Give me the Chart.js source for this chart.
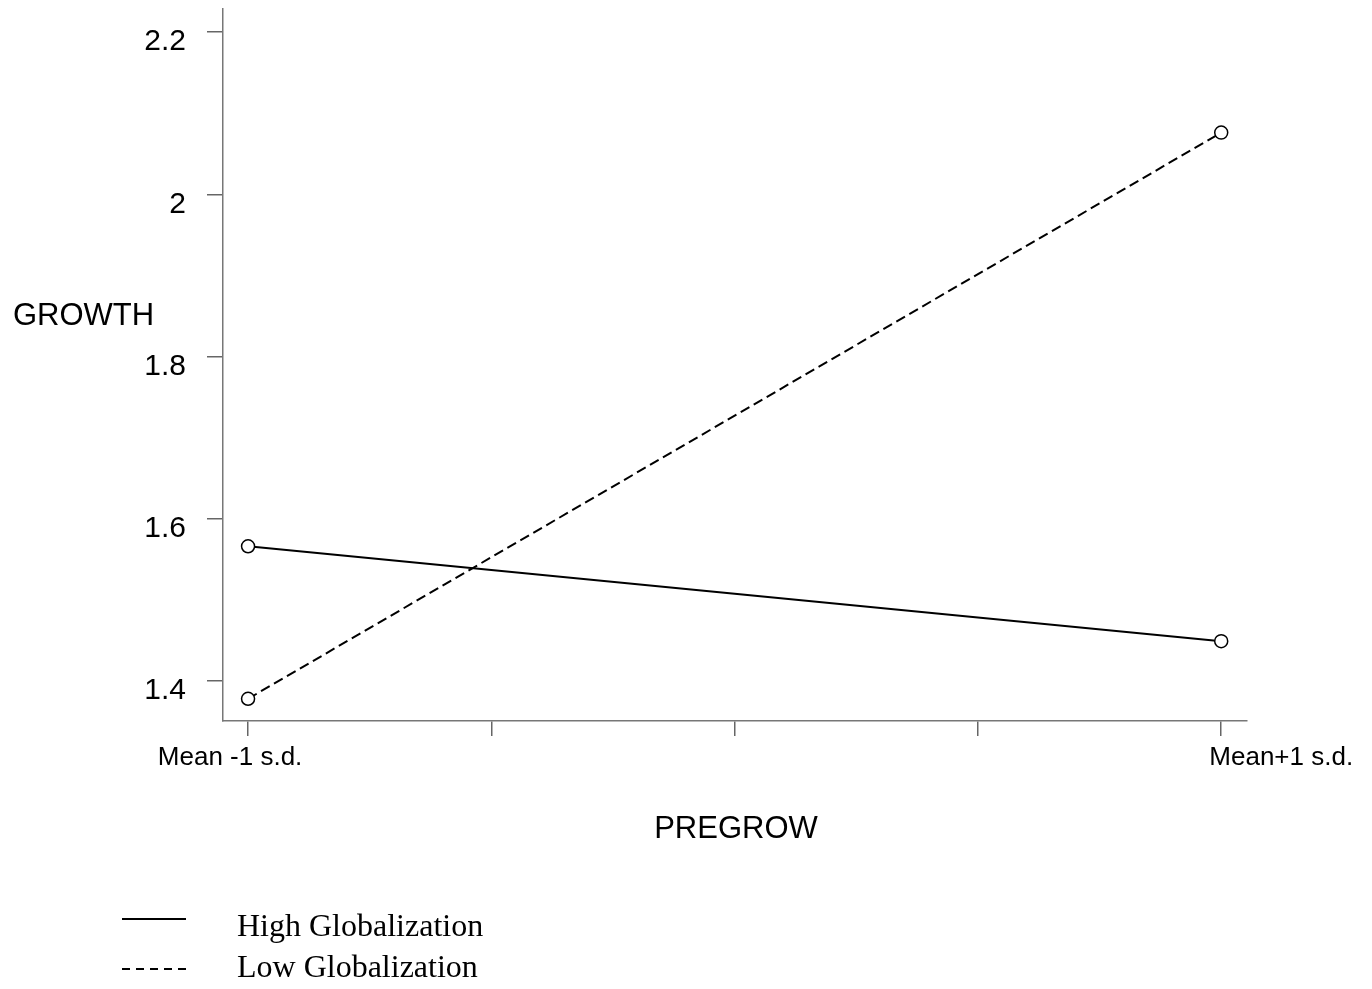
<!DOCTYPE html>
<html>
<head>
<meta charset="utf-8">
<title>GROWTH by PREGROW</title>
<script src="https://cdn.jsdelivr.net/npm/chart.js@4/dist/chart.umd.min.js"></script>
<style>
  html, body { margin: 0; padding: 0; background: #fff; }
</style>
</head>
<body>
<canvas id="growthChart" width="1372" height="989"></canvas>
<script>
// values
const xTickValues = [0, 1, 2, 3, 4];
const xTickLabels = ["Mean -1 s.d.", "", "", "", "Mean+1 s.d."];
const pointPositions = [0, 4];
const highGlobalization = [1.566, 1.449];
const lowGlobalization = [1.378, 2.076];
const yTickValues = [1.4, 1.6, 1.8, 2.0, 2.2];
const seriesNames = ["High Globalization", "Low Globalization"];
const xTitle = "PREGROW";
const yTitle = "GROWTH";

const sansFont = '"Liberation Sans", Arial, Helvetica, sans-serif';
const serifFont = '"Liberation Serif", "Times New Roman", serif';

function toPoints(values) {
  return pointPositions.map((x, i) => ({ x: x, y: values[i] }));
}

// axis titles, x labels and the legend are drawn by hand
const textLayer = {
  id: "textLayer",
  afterDraw(chart) {
    const { ctx, chartArea, scales } = chart;
    const xs = scales.x;
    ctx.save();
    ctx.fillStyle = "#000";

    // x tick labels (they sit a little off their ticks in the original)
    const labelShift = [-18, 0, 0, 0, 60];
    ctx.font = "26px " + sansFont;
    ctx.textAlign = "center";
    ctx.textBaseline = "alphabetic";
    xTickValues.forEach((v, i) => {
      if (!xTickLabels[i]) return;
      ctx.fillText(xTickLabels[i], xs.getPixelForValue(v) + labelShift[i], 765);
    });

    // axis titles
    ctx.font = "31px " + sansFont;
    ctx.textAlign = "left";
    ctx.fillText(yTitle, 13, 325);
    ctx.textAlign = "center";
    ctx.fillText(xTitle, (chartArea.left + chartArea.right) / 2 + 1, 838);

    // legend
    ctx.strokeStyle = "#000";
    ctx.lineWidth = 2;
    ctx.beginPath();
    ctx.moveTo(122, 919);
    ctx.lineTo(186, 919);
    ctx.stroke();
    ctx.setLineDash([8, 6]);
    ctx.beginPath();
    ctx.moveTo(122, 969);
    ctx.lineTo(186, 969);
    ctx.stroke();
    ctx.setLineDash([]);

    ctx.font = "32px " + serifFont;
    ctx.textAlign = "left";
    ctx.fillText(seriesNames[0], 237, 936);
    ctx.fillText(seriesNames[1], 237, 977);
    ctx.restore();
  }
};

const config = {
  type: "scatter",
  data: {
    datasets: [
      {
        label: seriesNames[0],
        data: toPoints(highGlobalization),
        showLine: true,
        borderColor: "#000",
        borderWidth: 2,
        pointRadius: 6.5,
        pointBorderWidth: 1.5,
        pointBackgroundColor: "#fff",
        pointBorderColor: "#000",
      },
      {
        label: seriesNames[1],
        data: toPoints(lowGlobalization),
        showLine: true,
        borderColor: "#000",
        borderWidth: 2,
        borderDash: [10, 5],
        pointRadius: 6.5,
        pointBorderWidth: 1.5,
        pointBackgroundColor: "#fff",
        pointBorderColor: "#000",
      },
    ],
  },
  options: {
    responsive: false,
    animation: false,
    devicePixelRatio: 1,
    layout: {
      padding: { top: 9, right: 125, left: 0, bottom: 0 }
    },
    plugins: {
      legend: { display: false },
      tooltip: { enabled: false },
    },
    scales: {
      x: {
        type: "linear",
        min: -0.103,
        max: 4.106,
        afterBuildTicks: (scale) => {
          scale.ticks = xTickValues.map((v) => ({ value: v }));
        },
        afterFit: (scale) => {
          scale.height = 989 - 721;
          scale.paddingLeft = 0;
          scale.paddingRight = 0;
        },
        grid: {
          drawOnChartArea: false,
          tickLength: 15,
          color: "#666",
          lineWidth: 1.5,
        },
        border: { color: "#777", width: 1.5 },
        ticks: { display: false },
      },
      y: {
        min: 1.3506,
        max: 2.2284,
        afterBuildTicks: (scale) => {
          scale.ticks = yTickValues.map((v) => ({ value: v }));
        },
        afterFit: (scale) => {
          scale.width = 223;
          scale.paddingTop = 0;
          scale.paddingBottom = 0;
        },
        grid: {
          drawOnChartArea: false,
          tickLength: 16,
          color: "#666",
          lineWidth: 1.5,
        },
        border: { color: "#777", width: 1.5 },
        ticks: {
          color: "#000",
          padding: 21,
          labelOffset: 10,
          font: { family: sansFont, size: 30 },
          callback: (v) => String(Math.round(v * 10) / 10),
        },
      },
    },
  },
  plugins: [textLayer],
};

document.addEventListener("DOMContentLoaded", () => {
  new Chart(document.getElementById("growthChart"), config);
});
</script>
</body>
</html>
